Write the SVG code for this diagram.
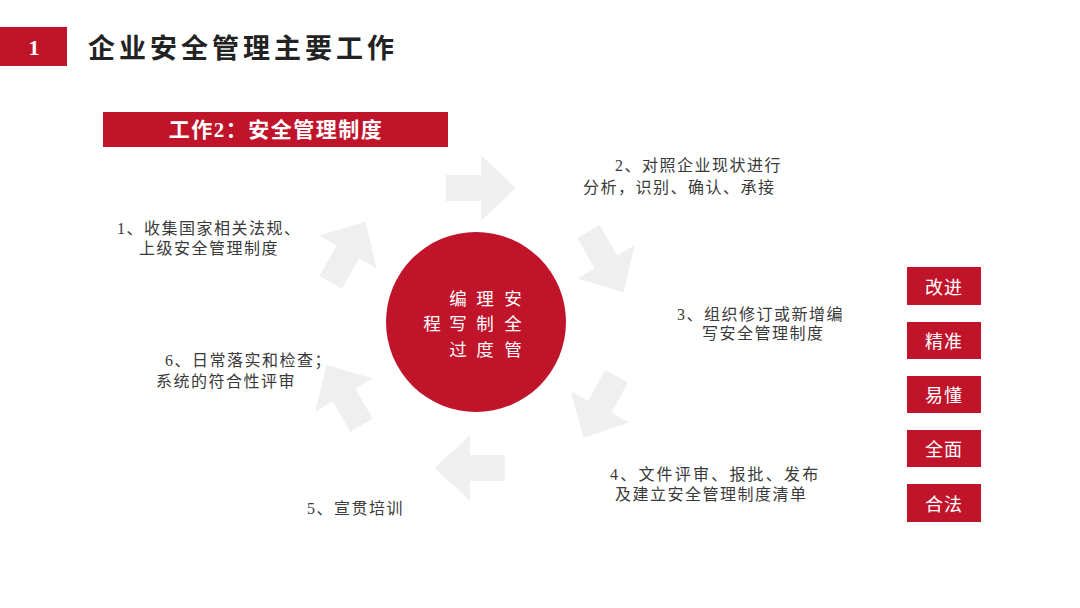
<svg xmlns="http://www.w3.org/2000/svg" width="1080" height="608" viewBox="0 0 1080 608">
  <defs>
    <polygon id="blk-arrow" points="-35,-13 0,-13 0,-33 35,0 0,33 0,13 -35,13"/>
  </defs>
  <style>
    .red { fill: #c0142b; }
    .cjk { font-family: "Liberation Serif", "Noto Sans CJK SC", serif; }
    .body { font-family: "Liberation Serif", "Noto Sans CJK SC", serif; font-size: 16px; fill: #3a3a3a; letter-spacing: 1.5px; dominant-baseline: central; }
    .wide { letter-spacing: 2.2px; }
    .wc { font-family: "Noto Sans CJK SC", sans-serif; font-size: 17.5px; fill: #ffffff; text-anchor: middle; dominant-baseline: central; }
    .tag { font-family: "Noto Sans CJK SC", sans-serif; font-size: 18px; fill: #ffffff; text-anchor: middle; dominant-baseline: central; letter-spacing: 1px; }
    .arrow { fill: #efefef; }
  </style>
  <rect width="1080" height="608" fill="#ffffff"/>

  <g id="title">
    <rect class="red" x="0" y="27" width="67" height="39"/>
    <text x="34" y="47" font-family="Liberation Serif, serif" font-weight="bold" font-size="22" fill="#ffffff" text-anchor="middle" dominant-baseline="central">1</text>
    <text class="cjk" x="88" y="48.5" font-size="27" font-weight="bold" fill="#222222" letter-spacing="4" dominant-baseline="central">企业安全管理主要工作</text>
  </g>

  <g id="banner">
    <rect class="red" x="103" y="112" width="345" height="35"/>
    <text class="cjk" x="276" y="130" font-size="21" font-weight="bold" fill="#ffffff" text-anchor="middle" letter-spacing="1.5" dominant-baseline="central">工作2：安全管理制度</text>
  </g>

  <g id="connectors">
    <use href="#blk-arrow" class="arrow" transform="translate(481,188) rotate(0)"/>
    <use href="#blk-arrow" class="arrow" transform="translate(606,262) rotate(60)"/>
    <use href="#blk-arrow" class="arrow" transform="translate(600,407) rotate(118)"/>
    <use href="#blk-arrow" class="arrow" transform="translate(470,468) rotate(180)"/>
    <use href="#blk-arrow" class="arrow" transform="translate(344,395) rotate(240)"/>
    <use href="#blk-arrow" class="arrow" transform="translate(348,252) rotate(300)"/>
  </g>

  <g id="center">
    <circle class="red" cx="476" cy="322" r="90"/>
    <text class="wc"><tspan x="458" y="296.5">编</tspan><tspan x="485" y="296.5">理</tspan><tspan x="513" y="296.5">安</tspan></text>
    <text class="wc"><tspan x="432" y="322">程</tspan><tspan x="458" y="322">写</tspan><tspan x="485" y="322">制</tspan><tspan x="513" y="322">全</tspan></text>
    <text class="wc"><tspan x="458" y="347.5">过</tspan><tspan x="485" y="347.5">度</tspan><tspan x="513" y="347.5">管</tspan></text>
  </g>

  <g id="step1">
    <text class="body" x="117" y="228">1、收集国家相关法规、</text>
    <text class="body" x="139" y="248">上级安全管理制度</text>
  </g>
  <g id="step2">
    <text class="body" x="615" y="165">2、对照企业现状进行</text>
    <text class="body" x="583" y="187">分析，识别、确认、承接</text>
  </g>
  <g id="step3">
    <text class="body" x="677" y="314">3、组织修订或新增编</text>
    <text class="body" x="702" y="333">写安全管理制度</text>
  </g>
  <g id="step4">
    <text class="body wide" x="610" y="474">4、文件评审、报批、发布</text>
    <text class="body" x="615" y="494">及建立安全管理制度清单</text>
  </g>
  <g id="step5">
    <text class="body" x="307" y="508">5、宣贯培训</text>
  </g>
  <g id="step6">
    <text class="body" x="165" y="360">6、日常落实和检查；</text>
    <text class="body" x="156" y="381">系统的符合性评审</text>
  </g>

  <g id="tag1"><rect class="red" x="907" y="267" width="74" height="38"/><text class="tag" x="944" y="286">改进</text></g>
  <g id="tag2"><rect class="red" x="907" y="322" width="74" height="37"/><text class="tag" x="944" y="340">精准</text></g>
  <g id="tag3"><rect class="red" x="907" y="376" width="74" height="37"/><text class="tag" x="944" y="394">易懂</text></g>
  <g id="tag4"><rect class="red" x="907" y="430" width="74" height="37"/><text class="tag" x="944" y="448">全面</text></g>
  <g id="tag5"><rect class="red" x="907" y="484" width="74" height="38"/><text class="tag" x="944" y="503">合法</text></g>
</svg>
